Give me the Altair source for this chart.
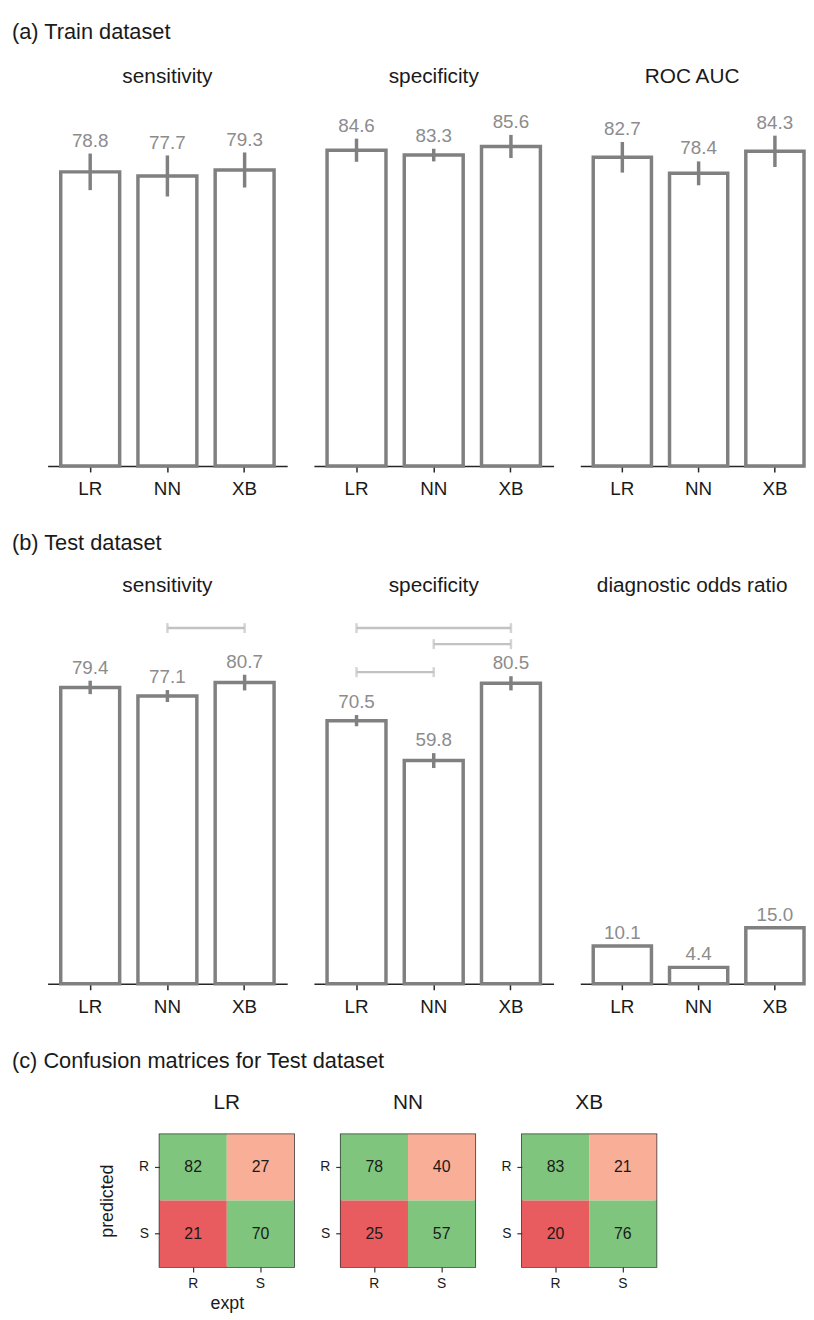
import altair as alt
import pandas as pd

models = ["LR", "NN", "XB"]

# (a) Train dataset
train_sens = [78.8, 77.7, 79.3]
train_sens_lo = [73.9, 72.2, 74.6]
train_sens_hi = [83.7, 83.2, 84.0]
train_spec = [84.6, 83.3, 85.6]
train_spec_lo = [81.5, 81.6, 82.5]
train_spec_hi = [87.7, 85.0, 88.7]
train_auc = [82.7, 78.4, 84.3]
train_auc_lo = [78.6, 75.2, 80.1]
train_auc_hi = [86.8, 81.6, 88.5]

# (b) Test dataset
test_sens = [79.4, 77.1, 80.7]
test_sens_lo = [77.6, 75.5, 78.6]
test_sens_hi = [81.2, 78.7, 82.8]
test_spec = [70.5, 59.8, 80.5]
test_spec_lo = [69.0, 57.8, 78.6]
test_spec_hi = [72.0, 61.8, 82.4]
test_dor = [10.1, 4.4, 15.0]

# significance brackets (test dataset)
sens_br_from = ["NN"]
sens_br_to = ["XB"]
sens_br_level = [95.3]
spec_br_from = ["LR", "NN", "LR"]
spec_br_to = ["XB", "XB", "NN"]
spec_br_level = [95.3, 91.0, 83.5]

# (c) confusion matrices
cm_pred = ["R", "R", "S", "S"]
cm_expt = ["R", "S", "R", "S"]
cm_kind = ["correct", "false R", "false S", "correct"]
cm_lr = [82, 27, 21, 70]
cm_nn = [78, 40, 25, 57]
cm_xb = [83, 21, 20, 76]
kind_domain = ["correct", "false R", "false S"]
kind_colors = ["#80c57d", "#f8ae97", "#e85c5f"]

BAR_GRAY = "#808080"
LABEL_GRAY = "#8c8c8c"
BRACKET_GRAY = "#c2c2c2"
INK = "#1a1a1a"
H = 377


def bar_panel(title, vals, lo, hi, title_offset, width=242, last=False,
              br_from=None, br_to=None, br_level=None):
    df = pd.DataFrame({
        "model": models, "value": vals, "lo": lo, "hi": hi,
        "label": [f"{v:.1f}" for v in vals],
    })
    if last:
        sc = alt.Scale(paddingInner=0.237, paddingOuter=0.085, align=1)
    else:
        sc = alt.Scale(paddingInner=0.237, paddingOuter=0.17)
    x = alt.X(
        "model:N", sort=models, scale=sc,
        axis=alt.Axis(title=None, labelAngle=0, labelFontSize=19, labelColor=INK,
                      tickSize=6, tickWidth=1.5, tickColor="#262626",
                      domainColor="#262626", domainWidth=1.5, labelPadding=8),
    )
    ysc = alt.Scale(domain=[0, 100], nice=False, zero=True)
    base = alt.Chart(df)
    bars = base.mark_bar(fill="white", stroke=BAR_GRAY, strokeWidth=3.5).encode(
        x=x, y=alt.Y("value:Q", scale=ysc, axis=None))
    err = base.mark_rule(color=BAR_GRAY, strokeWidth=3.5).encode(
        x=alt.X("model:N", sort=models), y=alt.Y("lo:Q", scale=ysc), y2="hi:Q")
    labels = base.mark_text(baseline="alphabetic", dy=-7, fontSize=19, color=LABEL_GRAY).encode(
        x=alt.X("model:N", sort=models), y=alt.Y("hi:Q", scale=ysc), text="label:N")
    layers = [bars, err, labels]
    if br_from:
        bdf = pd.DataFrame({"a": br_from, "b": br_to, "level": br_level})
        line = alt.Chart(bdf).mark_rule(color=BRACKET_GRAY, strokeWidth=2.5).encode(
            x=alt.X("a:N", sort=models), x2="b:N", y=alt.Y("level:Q", scale=ysc))
        cdf = pd.DataFrame({"m": br_from + br_to, "level": br_level + br_level})
        caps = alt.Chart(cdf).mark_tick(orient="vertical", color=BRACKET_GRAY, size=10,
                                        thickness=2.5).encode(
            x=alt.X("m:N", sort=models), y=alt.Y("level:Q", scale=ysc))
        layers += [line, caps]
    return alt.layer(*layers).properties(
        width=width, height=H,
        title=alt.TitleParams(title, fontSize=21, fontWeight="normal", color=INK,
                              offset=title_offset),
    )


def cm_panel(name, counts, first):
    df = pd.DataFrame({"pred": cm_pred, "expt": cm_expt, "count": counts, "kind": cm_kind})
    ax_common = dict(labelFontSize=14, labelColor=INK, tickSize=5, tickWidth=1.2,
                     tickColor="#333333", domain=False, labelAngle=0,
                     titleFontSize=18, titleFontWeight="normal", titleColor=INK)
    if first:
        xaxis = alt.Axis(title="expt", titlePadding=4, labelPadding=5, **ax_common)
        yaxis = alt.Axis(title="predicted", titlePadding=22, labelPadding=6, **ax_common)
    else:
        xaxis = alt.Axis(title=None, labelPadding=5, **ax_common)
        yaxis = alt.Axis(title=None, labelPadding=6, **ax_common)
    x = alt.X("expt:N", sort=["R", "S"], axis=xaxis)
    y = alt.Y("pred:N", sort=["R", "S"], axis=yaxis)
    rect = alt.Chart(df).mark_rect().encode(
        x=x, y=y,
        color=alt.Color("kind:N", scale=alt.Scale(domain=kind_domain, range=kind_colors),
                        legend=None))
    text = alt.Chart(df).mark_text(fontSize=16, color=INK).encode(
        x=alt.X("expt:N", sort=["R", "S"]), y=alt.Y("pred:N", sort=["R", "S"]),
        text="count:Q")
    return alt.layer(rect, text).properties(
        width=136, height=134,
        title=alt.TitleParams(name, fontSize=21, fontWeight="normal", color=INK, offset=22),
        view=alt.ViewBackground(stroke="#333333", strokeWidth=1.5),
    )


def row_title(text, offset):
    return alt.TitleParams(text, anchor="start", fontSize=22, fontWeight="normal",
                           color=INK, dx=-36, offset=offset)


row_a = alt.hconcat(
    bar_panel("sensitivity", train_sens, train_sens_lo, train_sens_hi, 6),
    bar_panel("specificity", train_spec, train_spec_lo, train_spec_hi, 6),
    bar_panel("ROC AUC", train_auc, train_auc_lo, train_auc_hi, 6, width=226, last=True),
    spacing=27,
).properties(title=row_title("(a) Train dataset", 22))

row_b = alt.hconcat(
    bar_panel("sensitivity", test_sens, test_sens_lo, test_sens_hi, 15,
              br_from=sens_br_from, br_to=sens_br_to, br_level=sens_br_level),
    bar_panel("specificity", test_spec, test_spec_lo, test_spec_hi, 15,
              br_from=spec_br_from, br_to=spec_br_to, br_level=spec_br_level),
    bar_panel("diagnostic odds ratio", test_dor, test_dor, test_dor, 15,
              width=226, last=True),
    spacing=27,
).properties(title=row_title("(b) Test dataset", 20))

# empty spacer that shifts the confusion matrices to the right
spacer = alt.Chart(pd.DataFrame({"s": [""]})).mark_text().encode(
    text="s:N").properties(width=27, height=1)

row_c = alt.hconcat(
    spacer,
    cm_panel("LR", cm_lr, True),
    cm_panel("NN", cm_nn, False),
    cm_panel("XB", cm_xb, False),
    spacing=24,
).properties(title=row_title("(c) Confusion matrices for Test dataset", 18))

chart = alt.vconcat(row_a, row_b, row_c, spacing=34).properties(
    padding={"left": 4, "top": 7, "right": 0, "bottom": 0}
).configure(font="Liberation Sans").configure_view(stroke=None)

chart.save("out.html", embed_options={"renderer": "svg", "actions": False})
